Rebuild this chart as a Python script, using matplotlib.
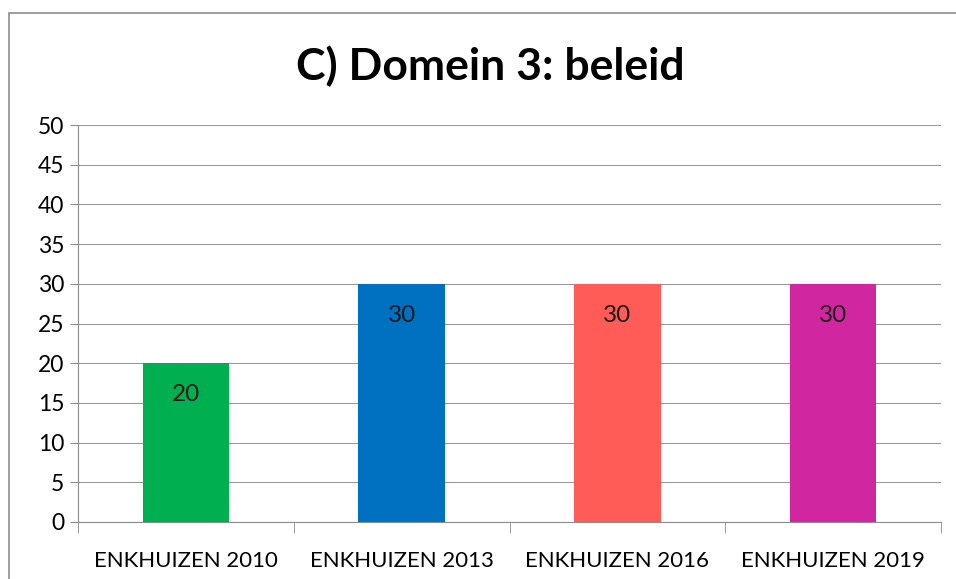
import numpy as np
import matplotlib.pyplot as plt
from matplotlib.patches import Rectangle

categories = ['ENKHUIZEN 2010', 'ENKHUIZEN 2013', 'ENKHUIZEN 2016', 'ENKHUIZEN 2019']
values = [20, 30, 30, 30]
colors = ['#00B050', '#0070C0', '#FF5B57', '#D026A0']

plt.rcParams['font.family'] = ['Lato', 'DejaVu Sans']

fig = plt.figure(figsize=(9.56, 5.79), dpi=100)
ax = fig.add_axes([78/956, 1 - 522/579, (941-78)/956, (522-125)/579])

# kader rond de grafiek
fig.patches.append(Rectangle((9/956, -0.01), 1.0, 1 - 13/579 + 0.01, transform=fig.transFigure,
                             fill=False, edgecolor='#8c8c8c', linewidth=1.2))

x = np.arange(len(categories))
bars = ax.bar(x, values, width=0.40, color=colors, zorder=3)
for xi, v in zip(x, values):
    ax.text(xi, v - 4.0, str(v), ha='center', va='center', fontsize=17.5, color='#1a1a1a', zorder=4)

ax.set_xlim(-0.5, len(categories) - 0.5)
ax.set_ylim(0, 50)
ax.set_yticks(np.arange(0, 51, 5))
ax.set_xticks(x)
ax.set_xticklabels(categories, fontsize=16)
ax.tick_params(axis='x', length=0, pad=21)
ax.set_xticks(np.arange(-0.5, len(categories), 1), minor=True)
ax.tick_params(axis='x', which='minor', length=8, color='#8c8c8c')
ax.tick_params(axis='y', labelsize=16.5, length=6, color='#8c8c8c', pad=4)
ax.yaxis.grid(True, color='#9a9a9a', linewidth=0.8, zorder=0)

for s in ['top', 'right']:
    ax.spines[s].set_visible(False)
for s in ['left', 'bottom']:
    ax.spines[s].set_color('#8c8c8c')

fig.text(490/956, 1 - 66/579, 'C) Domein 3: beleid', ha='center', va='center',
         fontsize=32, fontweight='bold')

fig.savefig('out.png', dpi=100)
